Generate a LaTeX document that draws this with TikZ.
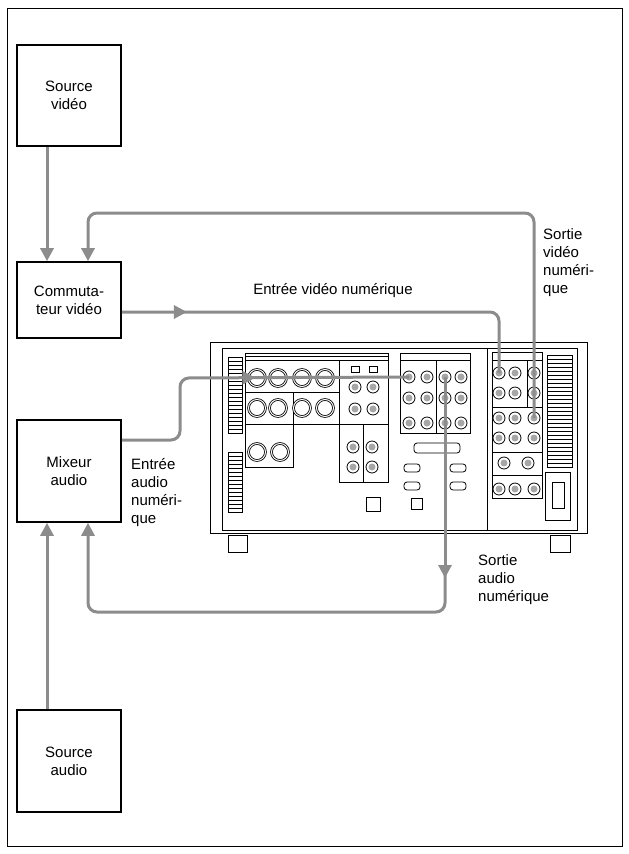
\documentclass[tikz,border=0pt]{standalone}
\usepackage{fontspec}
\setmainfont{Liberation Sans}
\usetikzlibrary{arrows.meta,decorations.markings}
\definecolor{wire}{RGB}{140,140,140}
\begin{document}
\begin{tikzpicture}[x=1pt,y=-1pt,
  box/.style={draw,line width=1.6pt,minimum width=104pt,align=center,font=\fontsize{15}{18}\selectfont},
  lbl/.style={align=left,font=\fontsize{15}{18}\selectfont,inner sep=0},
  wire/.style={draw=wire,line width=3pt,rounded corners=9pt},
  tip/.style={-{Triangle[length=13pt,width=13pt]}},
  mid/.style={postaction={decorate},decoration={markings,mark=at position #1 with {\arrow[wire]{Triangle[length=13pt,width=13pt]}}}},
  dev/.style={line width=0.8pt},
  jack/.style={dev,draw,circle,minimum size=12pt,inner sep=0,path picture={\fill[gray!70] (path picture bounding box.center) circle (3.5pt);}},
  bigjack/.style={dev,draw,circle,minimum size=17pt,inner sep=0,double,double distance=1pt}]
\useasboundingbox (0,0) rectangle (629,854);
\draw[line width=1pt] (7,8) rectangle (622,846);
% boxes
\node[box,minimum height=101pt] (sv) at (69,95.5) {Source\\vidéo};
\node[box,minimum height=76pt] (cv) at (69,300) {Commuta-\\teur vidéo};
\node[box,minimum height=102pt] (ma) at (69,471) {Mixeur\\audio};
\node[box,minimum height=102pt] (sa) at (69,761) {Source\\audio};
% device
\begin{scope}[dev]
\draw (210,342) rectangle (587,533);
\draw (222,348) rectangle (577,530);
\draw (487,348) -- (487,530);
\draw (228,535) rectangle (247,552);
\draw (550,535) rectangle (570,552);
\foreach \y in {357,361,...,433} \draw (228,\y) -- (242,\y);
\foreach \y in {452,456,...,512} \draw (228,\y) -- (242,\y);
\draw (228,357) rectangle (242,433); \draw (228,452) rectangle (242,512);
\foreach \y in {355,359,...,467} \draw (547,\y) -- (572,\y);
\draw (547,355) rectangle (572,467);
% left panels
\draw (245,353) rectangle (388,360); \draw (245,356) -- (388,356);
\draw (245,360) rectangle (339,424); \draw (245,392) -- (339,392); \draw (293,392) -- (293,424);
\draw (245,424) rectangle (293,467);
\draw (339,360) rectangle (388,424);
\draw (339,424) rectangle (388,482); \draw (363,424) -- (363,482);
\foreach \x in {257,278,302,325} {\node[bigjack] at (\x,378) {}; \node[bigjack] at (\x,408) {};}
\node[bigjack] at (257,452) {}; \node[bigjack] at (280,452) {};
\draw (351,366) rectangle (359,372); \draw (369,366) rectangle (377,372);
\foreach \x in {355,373} {\node[jack] at (\x,387) {}; \node[jack] at (\x,409) {};}
\foreach \x in {353,372} {\node[jack] at (\x,447) {}; \node[jack] at (\x,467) {};}
% middle
\draw (400,353) rectangle (470,360);
\draw (400,360) rectangle (470,433); \draw (436,360) -- (436,433);
\foreach \x in {409,427,445,461} \foreach \y in {377,398,423} \node[jack] at (\x,\y) {};
\draw[rounded corners=3pt] (414,443) rectangle (460,453);
\foreach \x/\y in {412/468,458/468,412/486,458/486} \draw[rounded corners=3pt] (\x-8,\y-4) rectangle (\x+8,\y+4);
\draw (366,497) rectangle (380,511);
\draw (411,498) rectangle (422,509);
% right
\draw (492,352) rectangle (542,498);
\draw (492,360) -- (542,360); \draw (492,407) -- (542,407); \draw (492,452) -- (542,452); \draw (492,475) -- (542,475);
\draw (527,360) -- (527,407);
\foreach \x in {499,515,534} \foreach \y in {373,393,418,438,489} \node[jack] at (\x,\y) {};
\node[jack] at (504,463) {}; \node[jack] at (528,463) {};
\draw (545,472) rectangle (570,520); \draw (552,482) rectangle (564,508);
\end{scope}
\coordinate (vin) at (499,373);
\coordinate (vout) at (534,418);
\coordinate (ain) at (409,377);
\coordinate (aout) at (445,377);
% wires
\draw[wire,tip] (sv.south -| 47,0) -- (cv.north -| 47,0);
\draw[wire,tip] (sa.north -| 47,0) -- (ma.south -| 47,0);
\draw[wire,tip] (vout) -- (534,213) -- (88,213) -- (cv.north -| 88,0);
\draw[wire,mid=0.15] (cv.east |- 0,312) -- (499,312) -- (vin);
\draw[wire,mid=0.55] (ma.east |- 0,440) -- (180,440) -- (180,378) -- (ain);
\draw[wire,tip] (aout) -- (445,578);
\draw[wire,tip] (445,570) -- (445,612) -- (88,612) -- (ma.south -| 88,0);
% labels
\node[lbl,anchor=south] at (333,298) {Entrée vidéo numérique};
\node[lbl,anchor=north west] at (543,228) {Sortie\\vidéo\\numéri-\\que};
\node[lbl,anchor=north west] at (131,458) {Entrée\\audio\\numéri-\\que};
\node[lbl,anchor=north west] at (478,554) {Sortie\\audio\\numérique};
\end{tikzpicture}
\end{document}
